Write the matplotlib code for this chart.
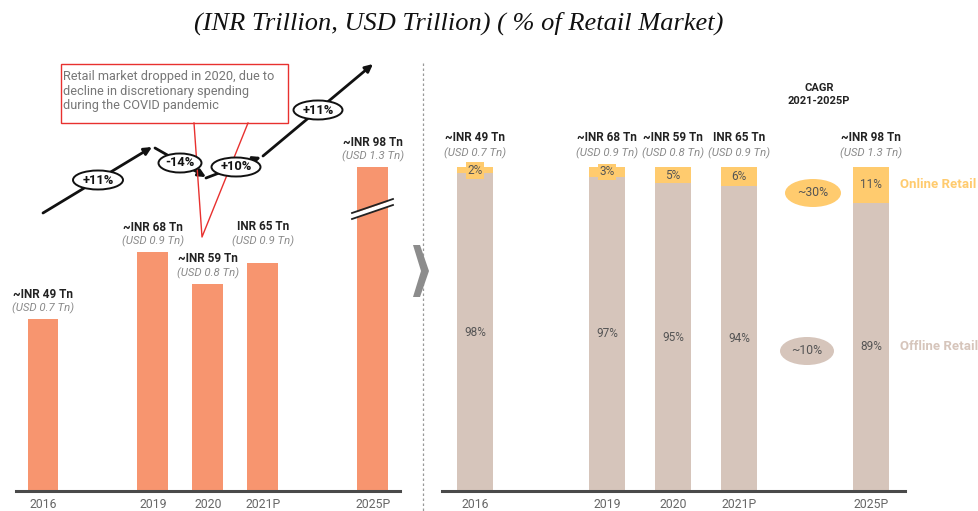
import matplotlib
matplotlib.use("Agg")
import matplotlib.pyplot as plt
from matplotlib.patches import Ellipse, Rectangle, Polygon
import numpy as np

# ---------------- data ----------------
years = ["2016", "2019", "2020", "2021P", "2025P"]
x_pos = [0, 2, 3, 4, 6]
market_inr = [49, 68, 59, 65, 98]
inr_labels = ["~INR 49 Tn", "~INR 68 Tn", "~INR 59 Tn", "INR 65 Tn", "~INR 98 Tn"]
usd_labels = ["(USD 0.7 Tn)", "(USD 0.9 Tn)", "(USD 0.8 Tn)", "(USD 0.9 Tn)", "(USD 1.3 Tn)"]
online_pct = [2, 3, 5, 6, 11]
offline_pct = [98, 97, 95, 94, 89]
growth_labels = ["+11%", "-14%", "+10%", "+11%"]
cagr_online = "~30%"
cagr_offline = "~10%"
note_text = "Retail market dropped in 2020, due to\ndecline in discretionary spending\nduring the COVID pandemic"
title = "(INR Trillion, USD Trillion) ( % of Retail Market)"

# ---------------- style ----------------
W, H = 979, 511
C_BAR = "#F7956F"
C_OFF = "#D6C5BB"
C_ON = "#FFCB6E"
C_AX = "#4A4A4A"
C_TICK = "#555555"
C_USD = "#8A8A8A"
FONT = ["Roboto", "DejaVu Sans"]
break_cut = 5.7  # visual compression of the broken 2025P bar

fig = plt.figure(figsize=(W / 100, H / 100), dpi=100)

def ax_rect(x0, x1, ybot, ytop):
    return [x0 / W, (H - ybot) / H, (x1 - x0) / W, (ybot - ytop) / H]

# ---------- left panel ----------
axL = fig.add_axes(ax_rect(16, 400, 491, 0))
uL = 55.0
axL.set_xlim(-27 / uL, 357 / uL)
axL.set_ylim(0, 491 / 3.51)
disp = [v - (break_cut if i == len(market_inr) - 1 else 0) for i, v in enumerate(market_inr)]
axL.bar(x_pos, disp, width=31 / uL, color=C_BAR, zorder=2)

extra = [0, 0, 0, 11, 0]
for i, (x, h) in enumerate(zip(x_pos, disp)):
    axL.annotate(inr_labels[i], (x, h), xytext=(0, 25 + extra[i]), textcoords="offset pixels",
                 ha="center", va="center", fontsize=8.5, fontweight="bold", color="#222222",
                 family=FONT)
    axL.annotate(usd_labels[i], (x, h), xytext=(0, 11 + extra[i]), textcoords="offset pixels",
                 ha="center", va="center", fontsize=8.2, fontstyle="italic", color=C_USD,
                 family=FONT)

# right panel
axR = fig.add_axes(ax_rect(442, 905, 491, 0))
uR = 66.0
axR.set_xlim(-33 / uR, 430 / uR)
axR.set_ylim(0, 491 / 3.24)
axR.bar(x_pos, offline_pct, width=36 / uR, color=C_OFF, zorder=2)
axR.bar(x_pos, online_pct, bottom=offline_pct, width=36 / uR, color=C_ON, zorder=2)
for i, x in enumerate(x_pos):
    top = offline_pct[i] + online_pct[i]
    axR.annotate(inr_labels[i], (x, top), xytext=(0, 29), textcoords="offset pixels",
                 ha="center", va="center", fontsize=8.5, fontweight="bold", color="#222222",
                 family=FONT)
    axR.annotate(usd_labels[i], (x, top), xytext=(0, 14), textcoords="offset pixels",
                 ha="center", va="center", fontsize=8.2, fontstyle="italic", color=C_USD,
                 family=FONT)
    axR.text(x, offline_pct[i] / 2, f"{offline_pct[i]}%", ha="center", va="center",
             fontsize=8.5, color="#555555", family=FONT, zorder=3)
    axR.text(x, offline_pct[i] + online_pct[i] / 2, f"{online_pct[i]}%", ha="center",
             va="center", fontsize=8.5, color="#555555", family=FONT, zorder=3,
             bbox=dict(boxstyle="square,pad=0.15", fc=C_ON, ec="none"))

for ax in (axL, axR):
    for s in ("top", "left", "right"):
        ax.spines[s].set_visible(False)
    ax.spines["bottom"].set_color(C_AX)
    ax.spines["bottom"].set_linewidth(2.2)
    ax.set_yticks([])
    ax.set_xticks(x_pos)
    ax.set_xticklabels(years, fontsize=8.8, color="#666666", family=FONT)
    ax.tick_params(axis="x", length=0, pad=5)
    ax.patch.set_visible(False)

# ---------- overlay for annotations (pixel coordinates) ----------
ov = fig.add_axes([0, 0, 1, 1], zorder=5)
ov.set_xlim(0, W)
ov.set_ylim(H, 0)
ov.axis("off")
ov.patch.set_visible(False)

ov.text(459, 23, title, ha="center", va="center", fontsize=19, fontstyle="italic",
        family=["Liberation Serif", "DejaVu Serif"], color="#111111")

# break marks on 2025P bar
ov.add_patch(Polygon([(352, 214), (393, 200), (393, 205), (352, 219)], closed=True,
                     fc="white", ec="none", zorder=6))
ov.plot([352, 393], [213, 199], color="#222222", lw=1.3, zorder=7)
ov.plot([352, 393], [219, 205], color="#222222", lw=1.3, zorder=7)

# trend arrows
segs = [((43, 213), (152, 147)), ((155, 148), (206, 177)),
        ((206, 178), (261, 157)), ((263, 156), (373, 64))]
for (p0, p1) in segs:
    ov.annotate("", xy=p1, xytext=p0,
                arrowprops=dict(arrowstyle="-|>,head_length=0.45,head_width=0.22",
                                color="#111111", lw=2, shrinkA=0, shrinkB=0), zorder=6)
ell = [(98, 180, 50), (180, 163, 43), (236, 167, 49), (318, 110, 49)]
for (cx, cy, w), lab in zip(ell, growth_labels):
    ov.add_patch(Ellipse((cx, cy), w, 19, fc="white", ec="#111111", lw=1.4, zorder=8))
    ov.text(cx, cy, lab, ha="center", va="center", fontsize=9.3, fontweight="bold",
            color="#111111", family=FONT, zorder=9)

# callout
ov.add_patch(Rectangle((61, 64), 227, 59, fc="white", ec="#E8312F", lw=1, zorder=6))
ov.text(63, 70, note_text, ha="left", va="top", fontsize=9.2, color="#777777",
        family=FONT, linespacing=1.17, zorder=7)
ov.plot([194, 202, 248], [123, 237, 123], color="#E8312F", lw=1, zorder=6)

# divider and chevron
ov.plot([423, 423], [63, 511], color="#999999", lw=0.9, ls=(0, (2, 2)), zorder=4)
ov.add_patch(Polygon([(413, 245), (420, 245), (429, 271), (420, 297), (413, 297), (421, 271)],
                     closed=True, fc="#8C8C8C", ec="none", zorder=6))

# CAGR annotations
ov.text(819, 88, "CAGR", ha="center", va="center", fontsize=8, fontweight="bold",
        color="#222222", family=FONT)
ov.text(819, 101, "2021-2025P", ha="center", va="center", fontsize=8, fontweight="bold",
        color="#222222", family=FONT)
ov.add_patch(Ellipse((813, 193), 56, 28, fc=C_ON, ec="none", zorder=6))
ov.text(813, 193, cagr_online, ha="center", va="center", fontsize=8.8, color="#555555",
        family=FONT, zorder=7)
ov.add_patch(Ellipse((807, 351), 54, 28, fc=C_OFF, ec="none", zorder=6))
ov.text(807, 351, cagr_offline, ha="center", va="center", fontsize=8.8, color="#555555",
        family=FONT, zorder=7)
ov.text(900, 185, "Online Retail", ha="left", va="center", fontsize=9.5, fontweight="bold",
        color=C_ON, family=FONT)
ov.text(900, 347, "Offline Retail", ha="left", va="center", fontsize=9.5, fontweight="bold",
        color=C_OFF, family=FONT)

fig.savefig("out.png", dpi=100)
